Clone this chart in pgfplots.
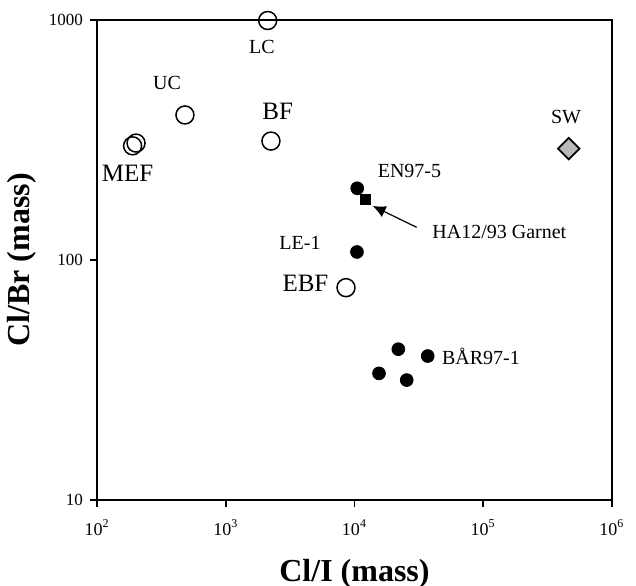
\documentclass[border=0pt]{standalone}
\usepackage{fontspec}
\setmainfont{Liberation Serif}
\usepackage{pgfplots}
\pgfplotsset{compat=1.18}
\usetikzlibrary{arrows.meta}
\begin{document}
\begin{tikzpicture}
\begin{axis}[
  xmode=log, ymode=log,
  scale only axis, width=257.5pt, height=240pt,
  xmin=100, xmax=1e6, ymin=10, ymax=1000,
  xtick={1e2,1e3,1e4,1e5,1e6},
  xticklabels={10\textsuperscript{2},10\textsuperscript{3},10\textsuperscript{4},10\textsuperscript{5},10\textsuperscript{6}},
  ytick={10,100,1000}, yticklabels={10,100,1000},
  xminorticks=false, yminorticks=false,
  tick align=outside, major tick length=3.5pt, tick pos=left,
  axis line style={line width=0.9pt},
  every tick/.style={black, line width=0.8pt},
  xticklabel style={font=\fontsize{9}{10}\selectfont, yshift=-3pt},
  yticklabel style={font=\fontsize{8.5}{10}\selectfont},
  xlabel={Cl/I (mass)}, ylabel={Cl/Br (mass)},
  label style={font=\fontsize{16}{18}\selectfont\bfseries},
  xlabel style={at={(axis description cs:0.5,-0.154)}, anchor=center},
  ylabel style={at={(axis description cs:-0.1456,0.5)}, anchor=center},
  clip=false,
]
% open circles: LC, UC, BF, MEF (x2), EBF
\addplot[only marks, mark=o, mark size=4.5pt, mark options={line width=0.75pt}] coordinates {
  (2118,995) (482,402) (2244,313) (189,299) (201,307) (8590,76.7)};
% filled circles: EN97-5, LE-1, BAR97-1
\addplot[only marks, mark=*, mark size=3.2pt, black] coordinates {
  (10500,199) (10450,108) (21900,42.5) (37050,39.8) (15500,33.7) (25440,31.6)};
% HA12/93 Garnet
\addplot[only marks, mark=square*, mark size=2.5pt, black] coordinates {(12070,179)};
% SW
\addplot[only marks, mark=square*, mark size=3.8pt,
  mark options={rotate=45, fill=gray!55, draw=black, line width=0.9pt}] coordinates {(461000,291)};

\draw[-{Latex[length=6.5pt,width=6pt]}, line width=0.6pt] (axis cs:30400,136.8) -- (axis cs:13840,168);

\node[font=\fontsize{10}{12}\selectfont] at (axis cs:1912,769) {LC};
\node[font=\fontsize{10}{12}\selectfont] at (axis cs:350,548) {UC};
\node[font=\fontsize{12.5}{14}\selectfont] at (axis cs:2533,415) {BF};
\node[font=\fontsize{12.5}{14}\selectfont] at (axis cs:173,230) {MEF};
\node[font=\fontsize{10}{12}\selectfont] at (axis cs:26730,235) {EN97-5};
\node[font=\fontsize{10}{12}\selectfont] at (axis cs:3775,118) {LE-1};
\node[font=\fontsize{12.5}{14}\selectfont] at (axis cs:4160,80.2) {EBF};
\node[font=\fontsize{10}{12}\selectfont, anchor=west, inner sep=0pt] at (axis cs:40000,131) {HA12/93 Garnet};
\node[font=\fontsize{10}{12}\selectfont, anchor=west, inner sep=0pt] at (axis cs:47560,39.8) {BÅR97-1};
\node[font=\fontsize{10}{12}\selectfont] at (axis cs:439500,393) {SW};
\end{axis}
\pgfresetboundingbox
\path[use as bounding box] ([shift={(-48.5pt,-43pt)}]current axis.south west) rectangle ([shift={(12pt,10pt)}]current axis.north east);
\end{tikzpicture}
\end{document}
